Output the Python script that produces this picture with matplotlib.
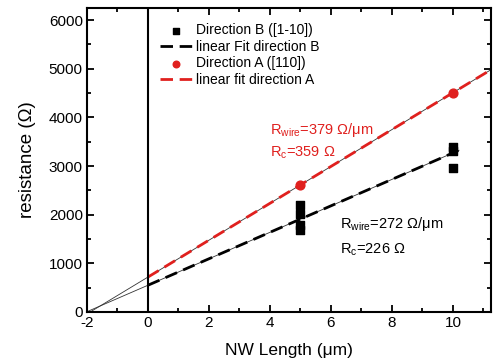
import matplotlib.pyplot as plt
from matplotlib.ticker import MultipleLocator
import numpy as np

plt.rcParams['font.family'] = ['Liberation Sans', 'DejaVu Sans']
plt.rcParams['mathtext.fontset'] = 'custom'
plt.rcParams['mathtext.rm'] = 'Liberation Sans'
plt.rcParams['axes.unicode_minus'] = False

# measured points
len_b = [5, 5, 5, 5, 10, 10, 10]
res_b = [2200, 2020, 1790, 1690, 3400, 3320, 2960]
len_a = [5, 10]
res_a = [2613, 4508]

# linear fits (slope, intercept)
slope_b, icpt_b = 272, 550
slope_a, icpt_a = 379, 718

red = '#e0201e'

fig = plt.figure(figsize=(4.94, 3.63), dpi=100)
ax = fig.add_axes([0.176, 0.1405, 0.818, 0.8375])

# thin full-range lines under the dashed fits
xs = np.array([-2, 11.25])
ax.plot(xs, slope_a * xs + icpt_a, color='#333333', lw=0.6, zorder=1)
xb = np.array([-2, 10.2])
ax.plot(xb, slope_b * xb + icpt_b, color='#333333', lw=0.6, zorder=1)

xf = np.array([0, 10.2])
ax.plot(xf, slope_b * xf + icpt_b, color='black', lw=2.0, dashes=(4.5, 2.4),
        label='linear Fit direction B', zorder=2)
xa = np.array([0, 11.25])
ax.plot(xa, slope_a * xa + icpt_a, color=red, lw=2.0, dashes=(4.5, 2.4),
        label='linear fit direction A', zorder=2)

ax.scatter(len_b, res_b, marker='s', s=30, color='black', zorder=3,
           label='Direction B ([1-10])')
ax.scatter(len_a, res_a, marker='o', s=40, color=red, zorder=3,
           label='Direction A ([110])')

ax.axvline(0, color='black', lw=1.5, zorder=2)

ax.set_xlim(-2, 11.25)
ax.set_ylim(0, 6250)
ax.xaxis.set_major_locator(MultipleLocator(2))
ax.xaxis.set_minor_locator(MultipleLocator(1))
ax.yaxis.set_major_locator(MultipleLocator(1000))
ax.yaxis.set_minor_locator(MultipleLocator(500))
ax.tick_params(which='both', direction='in', top=True, right=True, width=1.3)
ax.tick_params(which='major', length=5, labelsize=11, pad=3)
ax.tick_params(which='minor', length=3)
for s in ax.spines.values():
    s.set_linewidth(1.5)

ax.set_xlabel('NW Length (μm)', fontsize=12.5, labelpad=9)
ax.set_ylabel('resistance (Ω)', fontsize=13.5, labelpad=9)

h, l = ax.get_legend_handles_labels()
order = [2, 0, 3, 1]
ax.legend([h[i] for i in order], [l[i] for i in order], loc='upper left',
          bbox_to_anchor=(0.18, 0.95), borderaxespad=0, borderpad=0,
          frameon=False, fontsize=10, markerscale=0.75,
          handlelength=2.4, handletextpad=0.2, labelspacing=0.18)

ax.text(4.0, 3650, r'R$_{\rm wire}$=379 Ω/μm', color=red, fontsize=10.5)
ax.text(4.0, 3200, r'R$_{\rm c}$=359 Ω', color=red, fontsize=10.5)
ax.text(6.3, 1730, r'R$_{\rm wire}$=272 Ω/μm', color='black', fontsize=10.5)
ax.text(6.3, 1200, r'R$_{\rm c}$=226 Ω', color='black', fontsize=10.5)

fig.savefig('out.png', dpi=100)
